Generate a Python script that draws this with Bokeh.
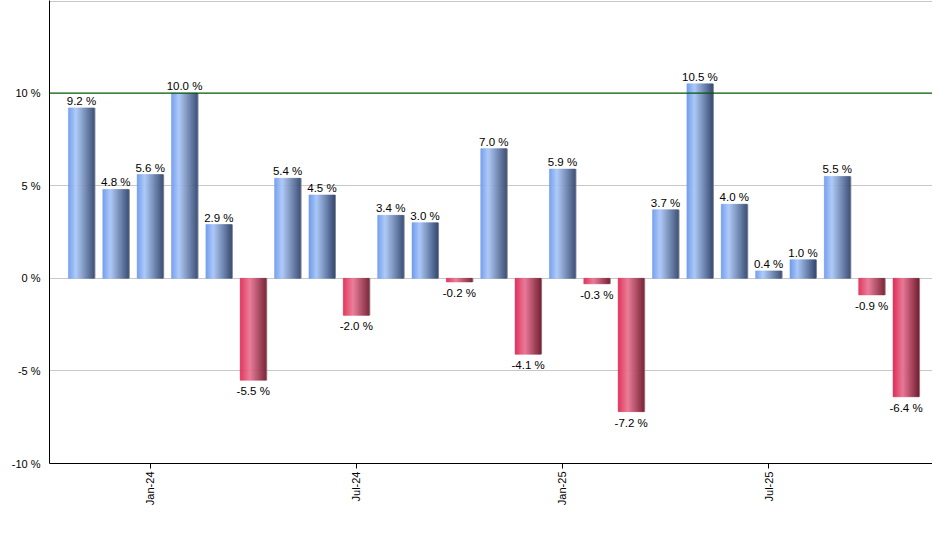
import numpy as np
from bokeh.plotting import figure
from bokeh.models import ColumnDataSource, FixedTicker, Span, Range1d
from bokeh.core.properties import value
from bokeh.embed import file_html
from bokeh.resources import INLINE

# ---- data ----
months = ["Nov-23", "Dec-23", "Jan-24", "Feb-24", "Mar-24", "Apr-24", "May-24", "Jun-24",
          "Jul-24", "Aug-24", "Sep-24", "Oct-24", "Nov-24", "Dec-24", "Jan-25", "Feb-25",
          "Mar-25", "Apr-25", "May-25", "Jun-25", "Jul-25", "Aug-25", "Sep-25", "Oct-25",
          "Nov-25"]
returns = [9.2, 4.8, 5.6, 10.0, 2.9, -5.5, 5.4, 4.5, -2.0, 3.4, 3.0, -0.2, 7.0, -4.1,
           5.9, -0.3, -7.2, 3.7, 10.5, 4.0, 0.4, 1.0, 5.5, -0.9, -6.4]
x_tick_months = ["Jan-24", "Jul-24", "Jan-25", "Jul-25"]
y_ticks = [-10, -5, 0, 5, 10]
y_tick_labels = ["-10 %", "-5 %", "0 %", "5 %", "10 %"]

FONT = "Liberation Sans"

idx = list(range(len(months)))

p = figure(width=932, height=542, output_backend="svg", toolbar_location=None,
           x_range=Range1d(-0.93, 24.77), y_range=Range1d(-10, 15),
           min_border_left=49, min_border_right=0, min_border_top=0, min_border_bottom=79)
p.outline_line_color = None
p.background_fill_color = "white"
p.border_fill_color = "white"

# gradient strips
def lerp(c1, c2, t):
    return tuple(int(round(a + (b - a) * t)) for a, b in zip(c1, c2))

def grad(stops, t):
    for (t0, c0), (t1, c1) in zip(stops[:-1], stops[1:]):
        if t <= t1:
            return lerp(c0, c1, (t - t0) / (t1 - t0))
    return stops[-1][1]

blue_stops = [(0.0, (108, 153, 238)), (0.3, (172, 200, 247)), (1.0, (54, 74, 114))]
red_stops = [(0.0, (222, 44, 84)), (0.38, (233, 120, 150)), (1.0, (118, 30, 50))]

W = 0.757
N = 26
xs, tops, cols = [], [], []
for i, v in zip(idx, returns):
    stops = blue_stops if v >= 0 else red_stops
    for k in range(N):
        t = (k + 0.5) / N
        c = grad(stops, t)
        xs.append(i - W / 2 + (k + 0.5) * W / N)
        tops.append(v)
        cols.append("#%02x%02x%02x" % c)
src = ColumnDataSource(dict(x=xs, top=tops, c=cols))
# shadow on right edge
p.vbar(x=[i + W / 2 + 0.015 for i in idx], top=returns, bottom=0, width=0.03,
       fill_color="#9a9a9a", line_color=None)
p.vbar(x="x", top="top", bottom=0, width=W / N, fill_color="c", line_color="c",
       line_width=0.5, source=src)

# grid
p.xgrid.grid_line_color = None
p.ygrid.grid_line_color = "#c8c8c8"
p.ygrid.ticker = FixedTicker(ticks=[-5, 0, 5, 14.95])
p.add_layout(Span(location=10, dimension="width", line_color="#005a00", line_width=1.2))

# labels
pos = [(i, v) for i, v in zip(idx, returns) if v >= 0]
neg = [(i, v) for i, v in zip(idx, returns) if v < 0]
p.text(x=[a for a, _ in pos], y=[b for _, b in pos], text=["%.1f %%" % b for _, b in pos],
       text_align="center", text_baseline="alphabetic", y_offset=-7,
       text_font=value(FONT), text_font_size="11.5px", text_color="black")
p.text(x=[a for a, _ in neg], y=[b for _, b in neg], text=["%.1f %%" % b for _, b in neg],
       text_align="center", text_baseline="top", y_offset=5,
       text_font=value(FONT), text_font_size="11.5px", text_color="black")

# axes
tick_pos = [months.index(m) for m in x_tick_months]
p.xaxis.ticker = FixedTicker(ticks=tick_pos)
p.xaxis.major_label_overrides = {t: m for t, m in zip(tick_pos, x_tick_months)}
p.xaxis.major_label_orientation = np.pi / 2
p.xaxis.major_tick_in = 0
p.xaxis.major_tick_out = 5
p.xaxis.minor_tick_line_color = None
p.xaxis.axis_line_color = "black"
p.xaxis.major_tick_line_color = "black"
p.xaxis.major_label_standoff = 3

p.yaxis.ticker = FixedTicker(ticks=y_ticks)
p.yaxis.major_label_overrides = {t: l for t, l in zip(y_ticks, y_tick_labels)}
p.yaxis.major_tick_line_color = None
p.yaxis.minor_tick_line_color = None
p.yaxis.axis_line_color = "black"
p.yaxis.major_label_standoff = 3

for ax in (p.xaxis, p.yaxis):
    ax.major_label_text_font = FONT
    ax.major_label_text_font_size = "11px"
    ax.major_label_text_color = "black"

open("out.html", "w").write(file_html(p, INLINE))
